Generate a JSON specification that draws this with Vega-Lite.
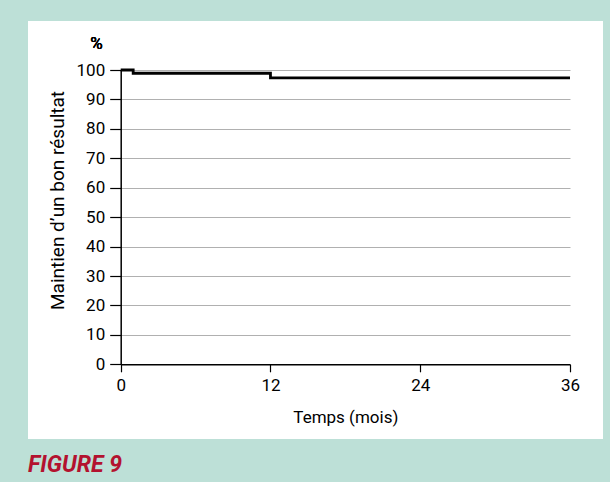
{
  "$schema": "https://vega.github.io/schema/vega-lite/v6.json",
  "width": 575,
  "height": 418,
  "autosize": {"type": "none"},
  "padding": {"left": 28, "top": 21, "right": 7, "bottom": 43},
  "background": "#bde0d7",
  "config": {"view": {"fill": "white", "stroke": null}, "font": "Roboto"},
  "title": {"text": "FIGURE 9", "orient": "bottom", "anchor": "start", "frame": "group", "offset": 15, "fontSize": 23, "fontStyle": "italic", "fontWeight": "bold", "color": "#b3122f", "font": "Roboto"},
  "data": {"values": [
    {"mois": 0, "pct": 100},
    {"mois": 1, "pct": 98.9},
    {"mois": 12, "pct": 97.3},
    {"mois": 36, "pct": 97.3}
  ]},
  "layer": [
    {
      "mark": {"type": "line", "interpolate": "step-after", "color": "black", "strokeWidth": 2.8},
      "encoding": {
        "x": {"field": "mois", "type": "quantitative",
          "scale": {"domain": [0, 36], "range": [92.7, 542], "nice": false},
          "axis": {"title": "Temps (mois)", "values": [0, 12, 24, 36], "grid": false, "offset": -74.7,
            "domainColor": "black", "domainWidth": 1.5, "tickColor": "black", "tickSize": 7.5, "tickWidth": 1.2,
            "labelFontSize": 17, "labelColor": "black", "labelPadding": 6, "labelFlush": false,
            "titleFontSize": 17, "titleFontWeight": "normal", "titleColor": "black", "titlePadding": 16}},
        "y": {"field": "pct", "type": "quantitative",
          "scale": {"domain": [0, 100], "range": [343.3, 49], "nice": false},
          "axis": {"title": "Maintien d’un bon résultat", "values": [0, 10, 20, 30, 40, 50, 60, 70, 80, 90, 100],
            "grid": true, "gridColor": "#b0b0b0", "gridWidth": 1, "offset": -92.7,
            "domainColor": "black", "domainWidth": 1.5, "tickColor": "black", "tickSize": 11, "tickWidth": 1.2,
            "labelFontSize": 17, "labelColor": "black", "labelPadding": 5, "labelFlush": false,
            "titleFontSize": 19, "titleFontWeight": "normal", "titleColor": "black", "titlePadding": 9, "titleY": 179}}
      }
    },
    {
      "mark": {"type": "text", "text": "%", "align": "right", "baseline": "alphabetic", "dx": -18, "dy": -21, "fontSize": 17, "fontWeight": "normal", "color": "black"},
      "encoding": {
        "x": {"datum": 0, "type": "quantitative"},
        "y": {"datum": 100, "type": "quantitative"}
      }
    }
  ]
}
